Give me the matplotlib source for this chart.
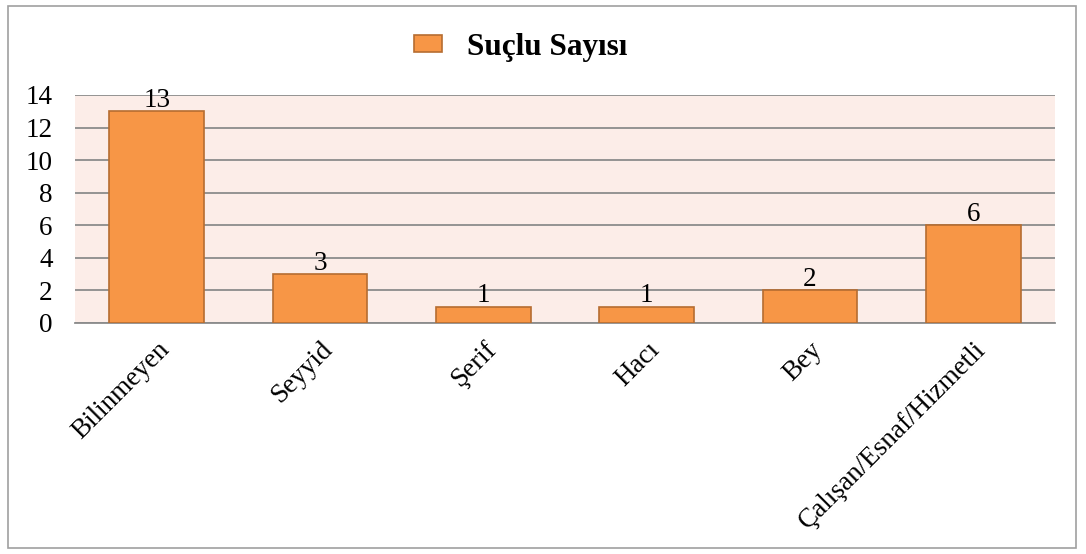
import matplotlib.pyplot as plt
from matplotlib.patches import Rectangle

categories = ["Bilinmeyen", "Seyyid", "Şerif", "Hacı", "Bey", "Çalışan/Esnaf/Hizmetli"]
values = [13, 3, 1, 1, 2, 6]
series_name = "Suçlu Sayısı"

plt.rcParams['font.family'] = ['Liberation Serif', 'DejaVu Serif']

fig = plt.figure(figsize=(10.86, 5.54), dpi=100)
ax = fig.add_axes([75 / 1086, 1 - 323 / 554, 980 / 1086, 228 / 554])

# outer frame
fig.patches.append(Rectangle((8 / 1086, 6 / 554), 1068 / 1086, 542 / 554,
                             transform=fig.transFigure, fill=False,
                             edgecolor='#a0a0a0', linewidth=1.2))

ax.set_facecolor('#fcede8')
x = range(len(categories))
bars = ax.bar(x, values, width=0.58, color='#f79646', edgecolor='#b66d31',
              linewidth=1.2, label=series_name, zorder=3)

for i, v in zip(x, values):
    ax.annotate(str(v), xy=(i, v), xytext=(0, -1), textcoords='offset points',
                ha='center', va='bottom', fontsize=19.5, zorder=4)

ax.set_xlim(-0.5, len(categories) - 0.5)
ax.set_ylim(0, 14)
ax.set_yticks(range(0, 15, 2))
ax.yaxis.grid(True, color='#8c8c8c', linewidth=1.3, zorder=1)
ax.set_axisbelow(True)
ax.tick_params(axis='both', length=0, labelsize=19.5)
ax.tick_params(axis='y', pad=16)
ax.tick_params(axis='x', pad=10)
ax.set_xticks(list(x))
ax.set_xticklabels(categories, rotation=45, ha='right', rotation_mode='anchor')

for s in ['top', 'right', 'left']:
    ax.spines[s].set_visible(False)
ax.spines['bottom'].set_color('#8c8c8c')
ax.spines['bottom'].set_linewidth(1.3)

leg = fig.legend(handles=[bars], labels=[series_name], loc='center',
                 bbox_to_anchor=(521 / 1086, 1 - 47 / 554), frameon=False,
                 prop={'weight': 'bold', 'size': 22.5}, handlelength=0.9,
                 handleheight=0.45, handletextpad=0.8)

fig.savefig('out.png', dpi=100)
